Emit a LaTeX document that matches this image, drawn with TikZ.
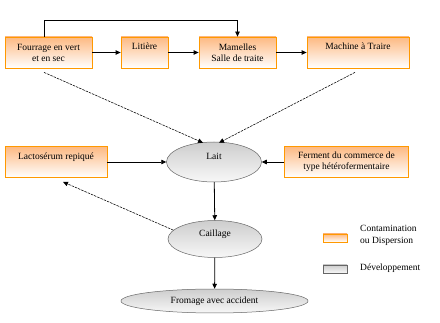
\documentclass[tikz,border=0pt]{standalone}
\usepackage{fontspec}
\setmainfont{Liberation Serif}
\usetikzlibrary{arrows.meta, shapes.geometric, calc}
\definecolor{fmorange}{RGB}{255,153,0}
\definecolor{fmpeach}{RGB}{253,185,130}
\definecolor{fmgray}{RGB}{205,205,205}

\begin{document}
\begin{tikzpicture}[x=1pt, y=-1pt, >={Triangle[length=5pt,width=4.5pt]},
    source/.style={draw=fmorange, line width=0.8pt, top color=fmpeach,
        bottom color=white, minimum height=31pt, inner sep=1pt,
        font=\fontsize{9.5}{12}\selectfont, align=center},
    haut/.style={text height=7pt, text depth=12pt},
    etape/.style={ellipse, draw=black!60, line width=0.5pt, top color=fmgray,
        bottom color=black!3, inner sep=0pt, font=\fontsize{9.5}{12}\selectfont},
    fleche/.style={->, line width=0.8pt},
    pointille/.style={->, black, line width=0.55pt, dash pattern=on 2.5pt off 1pt},
    legende/.style={minimum width=24pt, minimum height=8pt, inner sep=0pt}]
    \useasboundingbox[fill=white] (0,0) rectangle (440,323);

    % --- Sources de contamination (ligne du haut) ---
    \node[source, minimum width=87pt] (four) at (48.5,52.5)
        {Fourrage en vert\\[-1pt]et en sec};
    \node[source, haut, minimum width=47pt] (lit) at (144.5,52.5) {Litière};
    \node[source, minimum width=77pt] (mam) at (237.5,52.5)
        {Mamelles\\[-1pt]Salle de traite};
    \node[source, haut, minimum width=102pt] (mach) at (358,52.5) {Machine à Traire};

    % --- Lait et apports lateraux ---
    \node[source, haut, minimum width=102pt] (lacto) at (56,162) {Lactosérum repiqué};
    \node[etape, haut, minimum width=95pt, minimum height=40pt] (lait) at (214,162) {Lait};
    \node[source, minimum width=124pt] (ferm) at (346.5,162)
        {Ferment du commerce de\\[-1pt]type hétérofermentaire};

    % --- Fabrication ---
    \node[etape, haut, minimum width=94pt, minimum height=37pt] (caill) at (215,239) {Caillage};
    \node[etape, minimum width=187pt, minimum height=24pt] (from) at (214.5,301)
        {Fromage avec accident};

    % --- Liaisons ---
    \draw[fleche] (four) -- (lit);
    \draw[fleche] (lit) -- (mam);
    \draw[fleche] (mam) -- (mach);
    \draw[fleche] ([xshift=-4.5pt]four.north) -- ++(0,-16) -| (mam.north);
    \draw[pointille] ([xshift=-4.5pt,yshift=-4pt]four.south)
        -- ([xshift=-11pt,yshift=-1pt]lait.north);
    \draw[pointille] ([xshift=-3pt,yshift=-4pt]mach.south)
        -- ([xshift=5pt,yshift=-1pt]lait.north);
    \draw[fleche] (lacto) -- (lait);
    \draw[fleche] (ferm) -- (lait);
    \draw[fleche] (lait) -- (caill);
    \draw[fleche] (caill) -- (from);
    \draw[pointille] (caill.168) -- ([xshift=7pt,yshift=-4pt]lacto.south);

    % --- Legende ---
    \node[source, legende] (legsrc) at (335,238) {};
    \node[anchor=west, align=left, inner sep=0pt, font=\fontsize{9.5}{12}\selectfont]
        (txtsrc) at (360,235) {Contamination\\ou Dispersion};
    \node[etape, rectangle, legende] (legdev) at (335,269) {};
    \node[anchor=west, inner sep=0pt, font=\fontsize{9.5}{12}\selectfont]
        (txtdev) at (360,268) {Développement};
\end{tikzpicture}
\end{document}
